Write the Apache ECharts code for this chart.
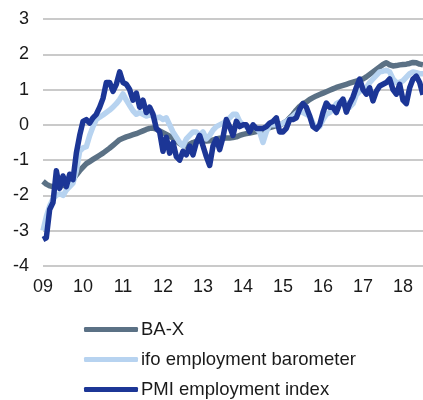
<!DOCTYPE html>
<html>
<head>
<meta charset="utf-8">
<script src="https://cdn.jsdelivr.net/npm/echarts@6/dist/echarts.min.js"></script>
<style>
  html, body { margin: 0; padding: 0; background: #fff; }
  #chart { width: 423px; height: 400px; }
</style>
</head>
<body>
<div id="chart"></div>
<script>
  // tick labels on the x axis, one per January
  const yearLabels = ['09', '10', '11', '12', '13', '14', '15', '16', '17', '18']
  // months Jan 2009 .. Jul 2018
  const monthCount = 115
  const months = []
  for (let i = 0; i < monthCount; i++) {
    months.push(yearLabels[Math.floor(i / 12)] + '-' + String(i % 12 + 1).padStart(2, '0'))
  }

  const baX = [
    -1.6, -1.68, -1.73, -1.75, -1.75, -1.73, -1.72, -1.7, -1.63, -1.55, -1.42, -1.3,
    -1.2, -1.1, -1.04, -0.98, -0.92, -0.86, -0.8, -0.73, -0.66, -0.58, -0.5, -0.42,
    -0.38, -0.34, -0.31, -0.28, -0.25, -0.21, -0.17, -0.13, -0.1, -0.09, -0.12, -0.17,
    -0.22, -0.27, -0.32, -0.38, -0.46, -0.53, -0.58, -0.6, -0.55, -0.5, -0.47, -0.45,
    -0.45, -0.46, -0.45, -0.43, -0.4, -0.38, -0.38, -0.37, -0.37, -0.36, -0.34, -0.3,
    -0.27, -0.25, -0.23, -0.21, -0.19, -0.17, -0.14, -0.11, -0.08, -0.05, -0.02, 0.0,
    0.04, 0.1, 0.2, 0.3, 0.42, 0.52, 0.6, 0.65, 0.72, 0.77, 0.82, 0.86,
    0.9, 0.94, 0.98, 1.02, 1.06, 1.09, 1.12, 1.15, 1.18, 1.21, 1.24, 1.27,
    1.3, 1.36, 1.43, 1.5, 1.57, 1.64, 1.71, 1.76, 1.7, 1.67, 1.68, 1.7,
    1.71, 1.72, 1.74, 1.77, 1.76, 1.72, 1.7
  ]

  const ifo = [
    -3.0, -2.6, -2.3, -2.1, -2.0, -1.95, -2.0, -1.85, -1.75, -1.65, -1.3, -0.75,
    -0.65, -0.62, -0.3, -0.05, 0.15, 0.22, 0.28, 0.35, 0.42, 0.5, 0.6, 0.72,
    0.88, 0.7, 0.55, 0.4, 0.3, 0.35, 0.3, 0.25, 0.28, 0.25, 0.2, 0.22,
    0.15, 0.2, 0.0, -0.2, -0.35, -0.5, -0.6, -0.4, -0.3, -0.2, -0.2, -0.3,
    -0.2, -0.4, -0.3, -0.15, -0.05, 0.0, 0.05, 0.1, 0.2, 0.3, 0.3, 0.1,
    0.0, -0.05, -0.1, -0.05, -0.1, -0.2, -0.5, -0.2, 0.0, 0.0, 0.0, 0.0,
    0.05, 0.1, 0.17, 0.25, 0.33, 0.4, 0.35, 0.3, 0.25, 0.05, -0.1, -0.05,
    0.15, 0.3, 0.35, 0.45, 0.6, 0.65, 0.7, 0.6, 0.5, 0.6, 0.85, 0.95,
    1.0, 1.05, 1.2, 1.3, 1.4, 1.5, 1.52, 1.55, 1.5, 1.3, 1.2, 1.2,
    1.25, 1.35, 1.45, 1.5, 1.48, 1.45, 1.45
  ]

  const pmi = [
    -3.25, -3.2, -2.4, -2.2, -1.3, -1.8, -1.45, -1.75, -1.4, -1.55, -0.8, -0.3,
    0.1, 0.15, 0.05, 0.2, 0.3, 0.5, 0.75, 1.2, 1.2, 0.95, 1.15, 1.5,
    1.2, 1.15, 1.0, 0.7, 0.9, 0.5, 0.7, 0.35, 0.5, 0.3, -0.1, -0.2,
    -0.75, -0.35, -0.8, -0.5, -0.9, -1.0, -0.75, -0.85, -0.6, -0.85, -0.5, -0.3,
    -0.6, -0.9, -1.15, -0.6, -0.4, -0.7, -0.35, 0.15, -0.05, -0.3, 0.1, -0.05,
    0.0, 0.0, -0.2, 0.0, -0.1, -0.1, -0.1, -0.05, 0.05, 0.1, 0.2, -0.2,
    -0.2, -0.1, 0.15, 0.15, 0.2, 0.45, 0.6, 0.5, 0.25, -0.05, -0.12, 0.0,
    0.35, 0.62, 0.5, 0.5, 0.35, 0.6, 0.73, 0.36, 0.6, 0.79, 1.06, 1.3,
    1.0, 0.87, 1.05, 0.68, 0.95, 1.1, 1.15, 1.2, 1.3, 1.0, 0.87, 1.15,
    0.7, 0.6, 1.05, 1.3, 1.38, 1.2, 0.85
  ]

  const seriesNames = ['BA-X', 'ifo employment barometer', 'PMI employment index']
  const seriesColors = ['#5b7185', '#b7d3f0', '#1c3696']

  const fontFamily = '"Liberation Sans", Arial, sans-serif'

  let chart = echarts.init(document.getElementById('chart'))

  let option = {
    animation: false,
    grid: {
      left: 43,
      right: 0,
      top: 19,
      bottom: 134
    },
    legend: {
      orient: 'vertical',
      left: 84,
      top: 320,
      padding: 0,
      itemWidth: 54,
      itemHeight: 5,
      itemGap: 11,
      icon: 'roundRect',
      textStyle: {
        fontFamily: fontFamily,
        fontSize: 18.5,
        color: '#1a1a1a',
        padding: [0, 0, 0, -2]
      },
      data: seriesNames
    },
    xAxis: {
      type: 'category',
      boundaryGap: false,
      data: months,
      axisLine: { show: false },
      axisTick: { show: false },
      axisLabel: {
        interval: (idx) => idx % 12 === 0,
        formatter: (val) => val.split('-')[0],
        margin: 12,
        fontFamily: fontFamily,
        fontSize: 18,
        color: '#1a1a1a'
      }
    },
    yAxis: {
      type: 'value',
      min: -4,
      max: 3,
      interval: 1,
      axisLine: { show: false },
      axisTick: { show: false },
      axisLabel: {
        margin: 14,
        fontFamily: fontFamily,
        fontSize: 18,
        color: '#1a1a1a'
      },
      splitLine: {
        lineStyle: {
          color: '#b8b8b8',
          width: 1.5
        }
      }
    },
    series: [baX, ifo, pmi].map((data, i) => ({
      name: seriesNames[i],
      type: 'line',
      data: data,
      showSymbol: false,
      symbol: 'none',
      color: seriesColors[i],
      lineStyle: {
        width: 5.5,
        color: seriesColors[i],
        join: 'round'
      }
    }))
  }

  chart.setOption(option)

  window.addEventListener('resize', function () {
    chart.resize()
  })
</script>
</body>
</html>
